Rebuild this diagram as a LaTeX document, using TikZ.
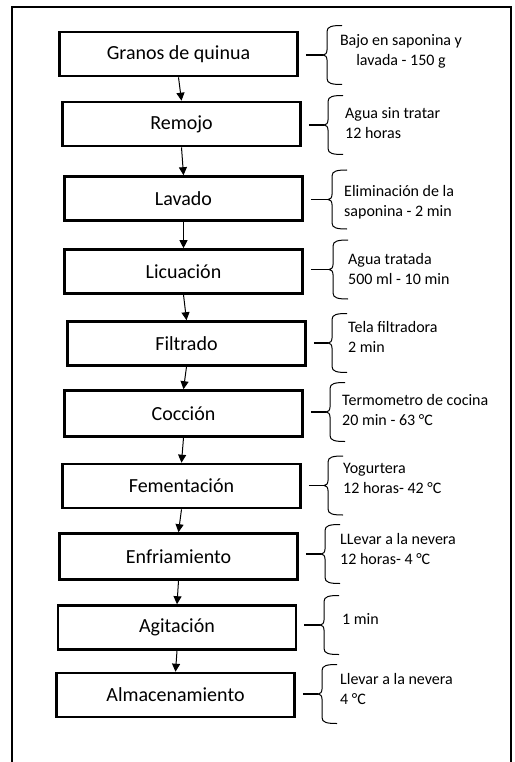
\documentclass[tikz,border=0pt]{standalone}
\usepackage{fontspec}
\setmainfont{Carlito}
\usetikzlibrary{arrows.meta}
\newcommand{\qbrace}[3]{% #1 x of vertical line, #2 middle y, #3 tip name
  \coordinate (#3) at (#1-4,#2);
  \draw[bracel] (#1+15,#2-29.5) .. controls (#1+5,#2-29.5) and (#1,#2-28.5) .. (#1,#2-23.5)
    -- (#1,#2-5) .. controls (#1,#2-1.5) and (#1-2,#2) .. (#3)
    .. controls (#1-2,#2) and (#1,#2+1.5) .. (#1,#2+5)
    -- (#1,#2+23.5) .. controls (#1,#2+28.5) and (#1+5,#2+29.5) .. (#1+15,#2+29.5);
}
\begin{document}
\begin{tikzpicture}[x=1pt,y=-1pt,
  stepbox/.style={draw, line width=2.6pt, minimum width=238pt, minimum height=44pt,
    inner sep=0pt, font=\fontsize{20}{24}\selectfont},
  sidetxt/.style={anchor=west, align=left, inner sep=0pt, font=\fontsize{16}{20}\selectfont},
  arr/.style={line width=1pt, -{Triangle[length=8pt,width=8pt]}},
  bracel/.style={line width=1pt},
  stem/.style={line width=1.3pt}]
\useasboundingbox (0,0) rectangle (514,762);
\fill[white] (0,0) rectangle (514,762);
\draw[line width=2.5pt] (12,763) -- (12,7) -- (511,7) -- (511,763);

\node[stepbox] (b1) at (178.5,54) {Granos de quinua};
\node[stepbox] (b2) at (181.5,124) {Remojo};
\node[stepbox] (b3) at (183.5,198.5) {Lavado};
\node[stepbox] (b4) at (183.5,271.5) {Licuación};
\node[stepbox] (b5) at (186.5,343.5) {Filtrado};
\node[stepbox, minimum height=46pt] (b6) at (183.5,413.5) {Cocción};
\node[stepbox] (b7) at (181.5,486) {Fementación};
\node[stepbox, minimum height=46pt] (b8) at (178.5,556.5) {Enfriamiento};
\node[stepbox] (b9) at (177,627.5) {Agitación};
\node[stepbox] (b10) at (175.5,695) {Almacenamiento};

\draw[arr] (b1.south) -- (b2.north);
\draw[arr] (b2.south) -- (b3.north);
\draw[arr] (b3.south) -- (b4.north);
\draw[arr] (b4.south) -- (b5.north);
\draw[arr] (b5.south) -- (b6.north);
\draw[arr] (b6.south) -- (b7.north);
\draw[arr] (b7.south) -- (b8.north);
\draw[arr] (b8.south) -- (b9.north);
\draw[arr] (b9.south) -- (b10.north);

\qbrace{327}{55}{t1}
\qbrace{328}{125}{t2}
\qbrace{332}{199.5}{t3}
\qbrace{333}{269.5}{t4}
\qbrace{332}{343}{t5}
\qbrace{330}{412}{t6}
\qbrace{328}{485.5}{t7}
\qbrace{325}{554}{t8}
\qbrace{324}{625}{t9}
\qbrace{322}{694}{t10}

\draw[stem] ([xshift=7pt]b1.east |- t1) -- (t1);
\draw[stem] ([xshift=7pt]b2.east |- t2) -- (t2);
\draw[stem] ([xshift=7pt]b3.east |- t3) -- (t3);
\draw[stem] ([xshift=7pt]b4.east |- t4) -- (t4);
\draw[stem] ([xshift=7pt]b5.east |- t5) -- (t5);
\draw[stem] ([xshift=7pt]b6.east |- t6) -- (t6);
\draw[stem] ([xshift=7pt]b7.east |- t7) -- (t7);
\draw[stem] ([xshift=7pt]b8.east |- t8) -- (t8);
\draw[stem] ([xshift=7pt]b9.east |- t9) -- (t9);
\draw[stem] ([xshift=7pt]b10.east |- t10) -- (t10);

\node[sidetxt, anchor=center, align=center] (s1) at (401,51) {Bajo en saponina y\\lavada - 150 g};
\node[sidetxt] (s2) at (345,123) {Agua sin tratar\\12 horas};
\node[sidetxt] (s3) at (344,202) {Eliminación de la\\saponina - 2 min};
\node[sidetxt] (s4) at (348,269) {Agua tratada\\500 ml - 10 min};
\node[sidetxt] (s5) at (348,337) {Tela filtradora\\2 min};
\node[sidetxt] (s6) at (342,410) {Termometro de cocina\\20 min - 63 °C};
\node[sidetxt] (s7) at (343,478) {Yogurtera\\12 horas- 42 °C};
\node[sidetxt] (s8) at (340,549) {LLevar a la nevera\\12 horas- 4 °C};
\node[sidetxt] (s9) at (342,619) {1 min};
\node[sidetxt] (s10) at (340,689) {Llevar a la nevera\\4 °C};
\end{tikzpicture}
\end{document}
